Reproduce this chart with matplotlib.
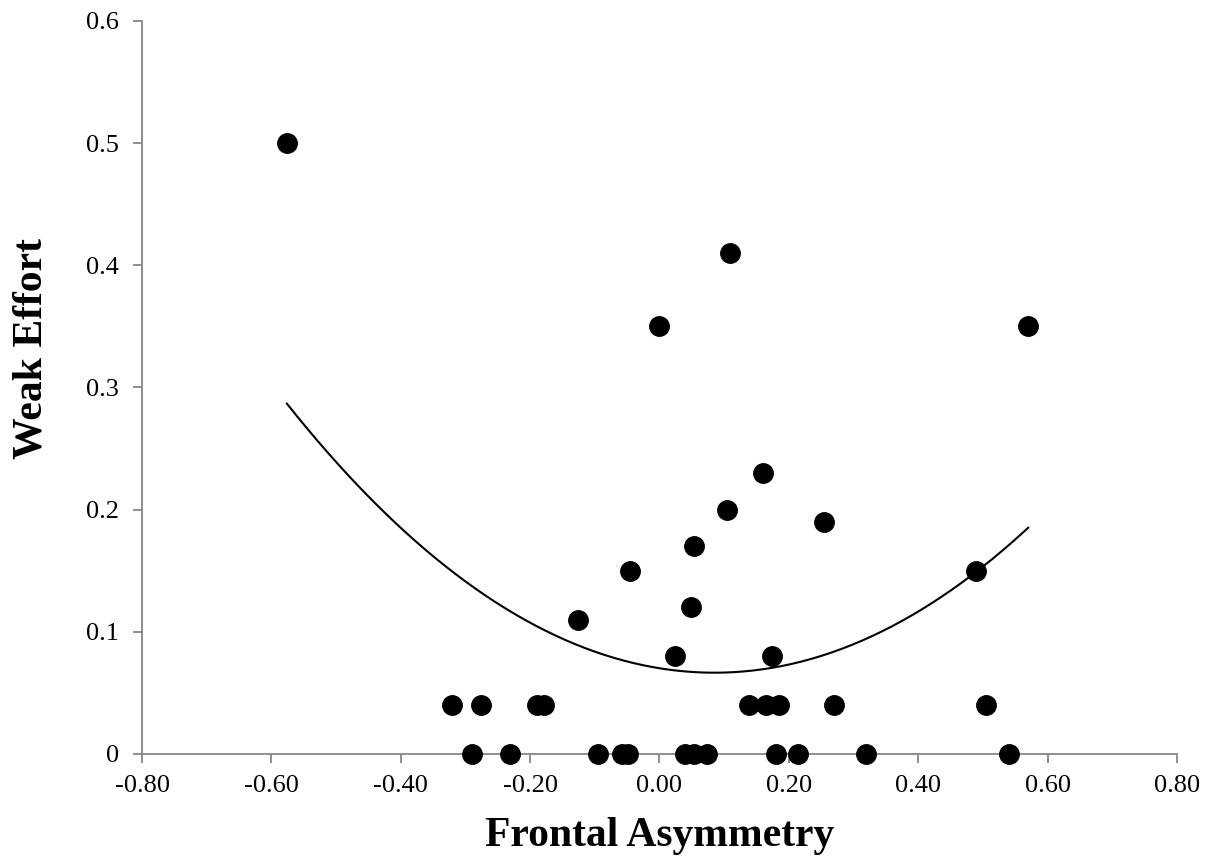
import matplotlib.pyplot as plt
import numpy as np

# Frontal asymmetry vs weak effort
asym = [-0.576, -0.321, -0.276, -0.189, -0.179, 0.138, 0.165, 0.185, 0.270, 0.505,
        -0.290, -0.231, -0.095, -0.058, -0.049, 0.039, 0.054, 0.073, 0.180, 0.214,
        0.319, 0.540, -0.126, -0.046, 0.000, 0.024, 0.049, 0.054, 0.104, 0.109,
        0.160, 0.174, 0.254, 0.489, 0.570]
effort = [0.50, 0.04, 0.04, 0.04, 0.04, 0.04, 0.04, 0.04, 0.04, 0.04,
          0.00, 0.00, 0.00, 0.00, 0.00, 0.00, 0.00, 0.00, 0.00, 0.00,
          0.00, 0.00, 0.11, 0.15, 0.35, 0.08, 0.12, 0.17, 0.20, 0.41,
          0.23, 0.08, 0.19, 0.15, 0.35]

x_ticks = [-0.8, -0.6, -0.4, -0.2, 0.0, 0.2, 0.4, 0.6, 0.8]
y_ticks = [0, 0.1, 0.2, 0.3, 0.4, 0.5, 0.6]

plt.rcParams['font.family'] = ['Liberation Serif', 'DejaVu Serif']

fig = plt.figure(figsize=(12.18, 8.6), dpi=100)
ax = fig.add_axes([0.1166, 0.1233, 0.8497, 0.8523])

x = np.array(asym)
y = np.array(effort)

# polynomial (order 2) trendline
coef = np.polyfit(x, y, 2)
xs = np.linspace(x.min(), x.max(), 300)
ax.plot(xs, np.polyval(coef, xs), color='black', linewidth=1.5, zorder=2)

ax.plot(x, y, 'o', color='black', markersize=14, zorder=3, clip_on=False)

ax.set_xlim(-0.8, 0.8)
ax.set_ylim(0, 0.6)
ax.set_xticks(x_ticks)
ax.set_xticklabels([f'{v:.2f}' for v in x_ticks])
ax.set_yticks(y_ticks)
ax.set_yticklabels(['0'] + [f'{v:.1f}' for v in y_ticks[1:]])

for s in ['top', 'right']:
    ax.spines[s].set_visible(False)
for s in ['left', 'bottom']:
    ax.spines[s].set_color('#868686')
    ax.spines[s].set_linewidth(1.3)
ax.tick_params(axis='both', direction='out', length=6.5, width=1.3, color='#868686',
               labelsize=19)
ax.tick_params(axis='x', pad=9)
ax.tick_params(axis='y', pad=10)

ax.set_xlabel('Frontal Asymmetry', fontsize=30, fontweight='bold', labelpad=14)
ax.set_ylabel('Weak Effort', fontsize=30, fontweight='bold')
ax.yaxis.set_label_coords(-0.088, 0.5525)

fig.savefig('out.png', dpi=100)
